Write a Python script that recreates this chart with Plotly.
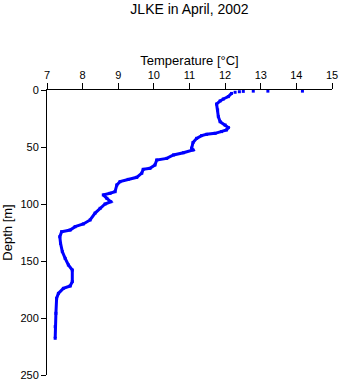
import plotly.graph_objects as go

# Profile (temperature in °C, depth in m)
temp = [12.18, 12.09, 11.95, 11.86, 11.76, 11.79, 11.81, 11.86, 12.0, 12.09, 12.04, 11.9, 11.72,
        11.48, 11.34, 11.2, 11.1, 11.06, 11.1, 10.83, 10.55, 10.36, 10.08, 10.03, 9.89, 9.7,
        9.66, 9.52, 9.28, 9.05, 8.96, 8.91, 8.77, 8.58, 8.68, 8.79, 8.63, 8.49, 8.35, 8.21,
        8.02, 7.79, 7.65, 7.41, 7.36, 7.38, 7.43, 7.51, 7.6, 7.71, 7.71, 7.65, 7.46, 7.32,
        7.27, 7.25, 7.23, 7.23]
depth = [3, 5.8, 7.9, 9.6, 12.3, 17.5, 23.4, 27.8, 30.7, 33, 35, 36.5, 38,
         38.9, 40, 42.4, 46, 51, 52.6, 55, 57, 60, 61.4, 65.8, 68.7, 69.6,
         73, 76.6, 78.4, 80.4, 83.3, 89.2, 90.6, 92, 95, 98, 100, 103.8, 108, 114,
         117.5, 119.9, 122.8, 124.3, 128.7, 134.5, 141.8, 147.7, 153.5, 157.9, 168.1, 171.9, 174, 178.4,
         182.7, 195.9, 207.6, 217.8]

# Isolated near-surface readings
surf_temp = [14.17, 13.2, 12.79, 12.51, 12.4, 12.28]
surf_depth = [1, 1, 1, 1.2, 1.5, 2]

x_ticks = [7, 8, 9, 10, 11, 12, 13, 14, 15]
y_ticks = [0, 50, 100, 150, 200, 250]

blue = "rgb(0,0,255)"
fig = go.Figure()
fig.add_trace(go.Scatter(x=temp, y=depth, mode="lines+markers",
                         line=dict(color=blue, width=3),
                         marker=dict(color=blue, size=3, symbol="square"),
                         cliponaxis=False))
fig.add_trace(go.Scatter(x=surf_temp, y=surf_depth, mode="markers",
                         marker=dict(color=blue, size=3, symbol="square"),
                         cliponaxis=False))

font = "Liberation Sans, Arial, sans-serif"
fig.update_layout(
    width=341, height=384,
    margin=dict(l=47, r=9, t=90, b=9, autoexpand=False),
    paper_bgcolor="white", plot_bgcolor="white",
    showlegend=False,
    font=dict(family=font, size=11, color="black"),
    title=dict(text="JLKE in April, 2002", x=0.5, xref="paper", xanchor="center",
               y=1 - 9 / 384, yanchor="middle", font=dict(size=14, family=font)),
    xaxis=dict(side="top", range=[7, 15], tickvals=x_ticks, ticks="outside", ticklen=6,
               tickcolor="black", showline=True, linecolor="black", linewidth=1,
               showgrid=False, zeroline=False, automargin=False,
               title=dict(text="Temperature [°C]", standoff=0)),
    yaxis=dict(range=[250, 0], tickvals=y_ticks, ticks="outside", ticklen=5,
               tickcolor="black", showline=True, linecolor="black", linewidth=1,
               showgrid=False, zeroline=False, automargin=False,
               title=dict(text="Depth [m]", standoff=6)),
)
fig.write_html("out.html", config={"displayModeBar": False, "staticPlot": True},
               post_script="document.body.style.margin='0';")
